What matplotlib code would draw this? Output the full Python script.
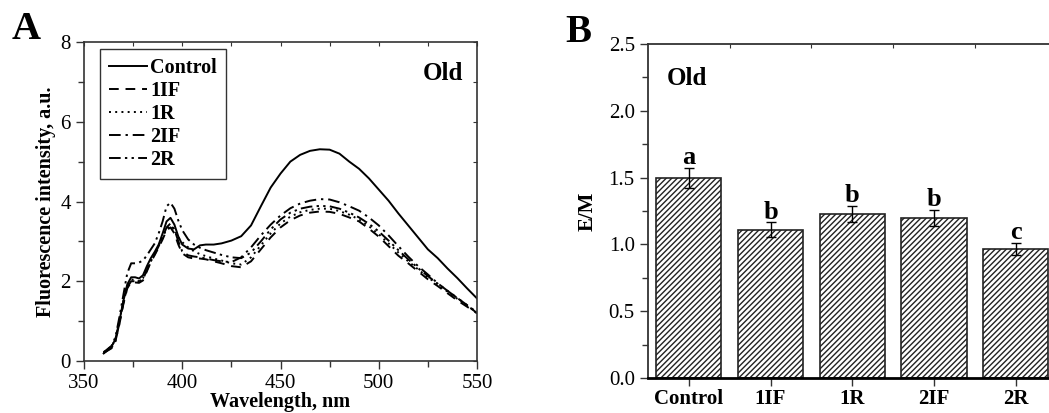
import matplotlib

matplotlib.use("Agg")
import matplotlib.pyplot as plt
from matplotlib.ticker import MultipleLocator, FixedLocator, FormatStrFormatter

plt.rcParams["font.family"] = ["Liberation Serif", "DejaVu Serif"]
plt.rcParams["hatch.linewidth"] = 1.0
plt.rcParams["hatch.color"] = "#333333"

# ---- panel A: emission spectra ----
wavelength = [360, 362, 364, 366, 368, 370, 372, 374, 376, 378, 380, 382, 384, 386, 388,
              390, 392, 394, 396, 398, 400, 403, 406, 409, 412, 416, 420, 425, 430, 435,
              440, 445, 450, 455, 460, 465, 470, 475, 480, 485, 490, 495, 500, 505, 510,
              515, 520, 525, 530, 535, 540, 545, 550]
control = [0.19, 0.28, 0.36, 0.55, 1.00, 1.50, 1.92, 2.10, 2.10, 2.07, 2.15, 2.38, 2.58, 2.74, 2.92,
           3.20, 3.50, 3.59, 3.42, 3.12, 2.92, 2.82, 2.80, 2.90, 2.92, 2.92, 2.95, 3.02, 3.13, 3.40,
           3.88, 4.35, 4.70, 5.00, 5.17, 5.27, 5.31, 5.30, 5.20, 5.00, 4.82, 4.58, 4.30, 4.02, 3.70,
           3.40, 3.10, 2.80, 2.58, 2.32, 2.08, 1.82, 1.57]
s_1if = [0.20, 0.26, 0.32, 0.50, 0.92, 1.42, 1.82, 1.98, 1.97, 1.96, 2.02, 2.25, 2.48, 2.66, 2.85,
         3.05, 3.28, 3.35, 3.20, 2.92, 2.70, 2.60, 2.57, 2.57, 2.55, 2.50, 2.45, 2.38, 2.35, 2.50,
         2.80, 3.10, 3.35, 3.53, 3.65, 3.72, 3.75, 3.74, 3.69, 3.60, 3.50, 3.32, 3.12, 2.88, 2.64,
         2.45, 2.25, 2.05, 1.88, 1.70, 1.52, 1.36, 1.20]
s_1r = [0.22, 0.30, 0.36, 0.55, 1.00, 1.50, 1.90, 2.05, 2.02, 2.00, 2.08, 2.30, 2.52, 2.70, 2.90,
        3.10, 3.32, 3.40, 3.28, 3.10, 2.98, 2.85, 2.75, 2.68, 2.63, 2.57, 2.52, 2.45, 2.42, 2.60,
        2.90, 3.20, 3.45, 3.62, 3.73, 3.79, 3.82, 3.82, 3.76, 3.67, 3.55, 3.38, 3.18, 2.95, 2.72,
        2.50, 2.30, 2.10, 1.92, 1.74, 1.56, 1.39, 1.21]
s_2if = [0.20, 0.27, 0.33, 0.50, 0.95, 1.45, 1.85, 2.00, 2.00, 2.00, 2.05, 2.28, 2.50, 2.68, 2.88,
         3.10, 3.35, 3.45, 3.30, 3.00, 2.75, 2.65, 2.62, 2.60, 2.57, 2.53, 2.50, 2.48, 2.60, 2.85,
         3.15, 3.42, 3.65, 3.83, 3.95, 4.02, 4.06, 4.05, 3.98, 3.88, 3.77, 3.60, 3.40, 3.15, 2.88,
         2.62, 2.38, 2.17, 1.95, 1.76, 1.58, 1.40, 1.22]
s_2r = [0.22, 0.30, 0.38, 0.60, 1.10, 1.65, 2.20, 2.45, 2.45, 2.47, 2.52, 2.65, 2.80, 2.95, 3.20,
        3.50, 3.88, 3.97, 3.82, 3.52, 3.28, 3.05, 2.92, 2.84, 2.78, 2.72, 2.66, 2.60, 2.58, 2.72,
        3.00, 3.30, 3.55, 3.72, 3.82, 3.87, 3.89, 3.88, 3.82, 3.72, 3.60, 3.44, 3.25, 3.02, 2.78,
        2.55, 2.33, 2.13, 1.94, 1.76, 1.58, 1.40, 1.20]
series_names = ["Control", "1IF", "1R", "2IF", "2R"]

# ---- panel B: E/M ratio ----
groups = ["Control", "1IF", "1R", "2IF", "2R"]
em_ratio = [1.50, 1.11, 1.23, 1.20, 0.965]
em_err = [0.075, 0.057, 0.06, 0.06, 0.047]
sig_letters = ["a", "b", "b", "b", "c"]

styles = [
    "-",
    (0, (5, 3.5)),
    (0, (1, 2.2)),
    (0, (6, 2.5, 1.2, 2.5)),
    (0, (6, 2.2, 1.2, 2.2, 1.2, 2.2)),
]

fig = plt.figure(figsize=(10.49, 4.13), dpi=100)

# panel A
ax = fig.add_axes([0.0801, 0.1259, 0.3746, 0.7724])
for ys, name, ls in zip([control, s_1if, s_1r, s_2if, s_2r], series_names, styles):
    ax.plot(wavelength, ys, color="black", lw=1.4, linestyle=ls, label=name)
ax.set_xlim(350, 550)
ax.set_ylim(0, 8)
ax.xaxis.set_major_locator(MultipleLocator(50))
ax.xaxis.set_minor_locator(MultipleLocator(25))
ax.yaxis.set_major_locator(MultipleLocator(2))
ax.yaxis.set_minor_locator(MultipleLocator(1))
ax.tick_params(which="both", direction="out", labelsize=15, color="#333333", width=1)
ax.tick_params(which="major", length=6)
ax.tick_params(which="minor", length=4)
for s in ax.spines.values():
    s.set_color("#333333")
    s.set_linewidth(1.2)
ax.set_xlabel("Wavelength, nm", fontsize=14.5, fontweight="bold", labelpad=-1)
ax.set_ylabel("Fluorescence intensity, a.u.", fontsize=14.5, fontweight="bold", labelpad=3)

# inward ticks on top / right
top = ax.secondary_xaxis("top")
top.xaxis.set_major_locator(MultipleLocator(25))
top.tick_params(direction="in", length=3, labeltop=False, color="#333333")
top.spines["top"].set_visible(False)
right = ax.secondary_yaxis("right")
right.yaxis.set_major_locator(MultipleLocator(1))
right.tick_params(direction="in", length=3, labelright=False, color="#333333")
right.spines["right"].set_visible(False)

leg = ax.legend(loc="upper left", bbox_to_anchor=(0.04, 0.978), borderaxespad=0,
                prop={"weight": "bold", "size": 14.5}, handlelength=1.9, handletextpad=0.15,
                labelspacing=0.15, borderpad=0.45, fancybox=False, framealpha=1)
leg.get_frame().set_edgecolor("#333333")
leg.get_frame().set_linewidth(1.0)
ax.text(0.964, 0.881, "Old", transform=ax.transAxes, ha="right", va="baseline",
        fontsize=18, fontweight="bold")

# panel B
bx = fig.add_axes([0.6177, 0.0847, 0.3894, 0.8088])
pos = list(range(len(groups)))
bx.bar(pos, em_ratio, width=0.8, color="white", edgecolor="#222222", linewidth=1.2,
       hatch="//////", zorder=2)
bx.errorbar(pos, em_ratio, yerr=em_err, fmt="none", ecolor="black", elinewidth=1,
            capsize=3.5, capthick=1, zorder=3)
for p, v, e, t in zip(pos, em_ratio, em_err, sig_letters):
    bx.text(p, v + e + 0.025, t, ha="center", va="baseline", fontsize=19, fontweight="bold")
bx.set_xlim(-0.5, 4.5)
bx.set_ylim(0, 2.5)
bx.set_xticks(pos)
bx.set_xticklabels(groups, fontweight="bold")
bx.yaxis.set_major_locator(MultipleLocator(0.5))
bx.yaxis.set_minor_locator(MultipleLocator(0.25))
bx.yaxis.set_major_formatter(FormatStrFormatter("%.1f"))
bx.tick_params(which="both", direction="out", labelsize=15, color="#333333", width=1)
bx.tick_params(which="major", length=6)
bx.tick_params(which="minor", length=4)
bx.tick_params(axis="x", pad=2)
bx.spines["right"].set_visible(False)
bx.spines["bottom"].set_linewidth(2)
bx.spines["bottom"].set_color("black")
for k in ("left", "top"):
    bx.spines[k].set_color("#333333")
    bx.spines[k].set_linewidth(1.3)
btop = bx.secondary_xaxis("top")
btop.xaxis.set_major_locator(FixedLocator([0.5, 1.5, 2.5, 3.5]))
btop.tick_params(direction="in", length=3, labeltop=False, color="#333333")
btop.spines["top"].set_visible(False)
bx.set_ylabel("E/M", fontsize=15, fontweight="bold", labelpad=8)
bx.text(0.0465, 0.877, "Old", transform=bx.transAxes, ha="left", va="baseline",
        fontsize=18, fontweight="bold")

fig.text(0.011, 0.905, "A", fontsize=29, fontweight="bold", ha="left", va="baseline")
fig.text(0.539, 0.898, "B", fontsize=28, fontweight="bold", ha="left", va="baseline")

fig.savefig("out.png", dpi=100)
